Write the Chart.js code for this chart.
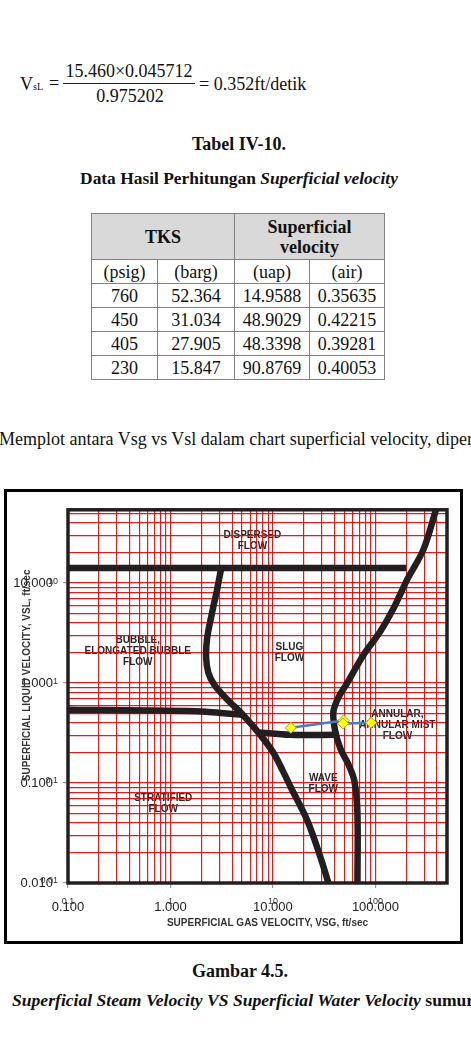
<!DOCTYPE html>
<html>
<head>
<meta charset="utf-8">
<script src="https://cdn.jsdelivr.net/npm/chart.js@4.4.0/dist/chart.umd.min.js"></script>
<style>
  body { margin: 0; width: 471px; height: 1038px; background: #fff; position: relative; overflow: hidden;
         font-family: 'Liberation Serif', 'Times New Roman', serif; font-size: 18px; color: #111; }
  .t { position: absolute; line-height: 18px; white-space: nowrap; }
  .c { transform: translateX(-50%); }
  table { position: absolute; left: 91px; top: 213px; width: 293px; border-collapse: collapse; table-layout: fixed; font-size: 18px; }
  td { border: 1.5px solid #808080; text-align: center; padding: 0; height: 23px; line-height: 20px; }
  tr.head td { background: #d9d9d9; font-weight: bold; height: 45px; }
  #frame { position: absolute; left: 4px; top: 489px; width: 459px; height: 455px; border: 3px solid #000; box-sizing: border-box; }
  #box { position: relative; width: 453px; height: 449px; }
</style>
</head>
<body>

<!-- formula -->
<div class="t" style="left:20px; top:75px;">V<span style="font-size:10px;">sL</span></div>
<div class="t" style="left:49px; top:74px;">=</div>
<div class="t c" style="left:129px; top:62px;">15.460&#215;0.045712</div>
<div style="position:absolute; left:63px; top:83px; width:132px; border-top:1px solid #222;"></div>
<div class="t c" style="left:130px; top:87px;">0.975202</div>
<div class="t" style="left:199px; top:75px;">= 0.352ft/detik</div>

<div class="t c" style="left:239px; top:135px; font-weight:bold;">Tabel IV-10.</div>
<div class="t c" style="left:239px; top:169px; font-weight:bold; font-size:17.4px;">Data Hasil Perhitungan <i>Superficial velocity</i></div>

<table>
  <colgroup><col style="width:66px"><col style="width:77px"><col style="width:75px"><col style="width:75px"></colgroup>
  <tr class="head"><td colspan="2">TKS</td><td colspan="2">Superficial<br>velocity</td></tr>
  <tr><td>(psig)</td><td>(barg)</td><td>(uap)</td><td>(air)</td></tr>
  <tr><td>760</td><td>52.364</td><td>14.9588</td><td>0.35635</td></tr>
  <tr><td>450</td><td>31.034</td><td>48.9029</td><td>0.42215</td></tr>
  <tr><td>405</td><td>27.905</td><td>48.3398</td><td>0.39281</td></tr>
  <tr><td>230</td><td>15.847</td><td>90.8769</td><td>0.40053</td></tr>
</table>

<div class="t" style="left:-1px; top:430px;">Memplot antara Vsg vs Vsl dalam chart superficial velocity, diperoleh gambar sebagai berikut:</div>

<div id="frame"><div id="box"><canvas id="flowChart"></canvas></div></div>

<div class="t c" style="left:240px; top:962px; font-weight:bold;">Gambar 4.5.</div>
<div class="t" style="left:12px; top:991px; font-weight:bold; font-size:17.6px;"><i>Superficial Steam Velocity VS Superficial Water Velocity</i> sumur</div>

<script>
// decade labels on each axis
const vsgDecades = [0.1, 1, 10, 100];
const vslDecades = [0.01, 0.1, 1, 10];

// measured points (table IV-10)
const steamVsg = [14.9588, 48.9029, 48.3398, 90.8769];
const waterVsl = [0.35635, 0.42215, 0.39281, 0.40053];

// flow regime boundaries
const dispersedVsg = [0.1, 200];
const dispersedVsl = [14.1, 14.1];
const bubbleVsg = [3.13, 2.86, 2.56, 2.28, 2.23, 2.34, 2.67, 3.5, 5.14, 7.53, 10.1, 12.6, 15.1, 21.7, 29.1, 34.8];
const bubbleVsl = [14.1, 8.74, 5.18, 2.81, 1.78, 1.27, 0.964, 0.702, 0.477, 0.303, 0.201, 0.13, 0.0887, 0.0419, 0.0181, 0.01];
const stratifiedVsg = [0.1, 2, 5.1];
const stratifiedVsl = [0.54, 0.52, 0.48];
const waveVsg = [7.4, 14.5, 40.5];
const waveVsl = [0.32, 0.303, 0.303];
const annularVsg = [66.8, 66.8, 62.5, 54.6, 45.6, 40.7, 38.9, 43.6, 53.4, 76.5, 112, 150, 206, 295, 390];
const annularVsl = [0.01, 0.049, 0.104, 0.153, 0.22, 0.324, 0.51, 0.718, 1.01, 1.91, 3.29, 5.55, 11.0, 21.7, 54];

// region names and where they sit
const regionNames = [['DISPERSED', 'FLOW'], ['BUBBLE,', 'ELONGATED BUBBLE', 'FLOW'], ['SLUG', 'FLOW'],
                     ['ANNULAR,', 'ANNULAR MIST', 'FLOW'], ['WAVE', 'FLOW'], ['STRATIFIED', 'FLOW']];
const regionVsg = [6.3, 0.48, 14.5, 164, 31, 0.85];
const regionVsl = [26.6, 2.09, 2.0, 0.38, 0.099, 0.062];

const xTitle = 'SUPERFICIAL GAS VELOCITY, VSG, ft/sec';
const yTitle = 'SUPERFICIAL LIQUID VELOCITY, VSL, ft/sec';

const pts = (xs, ys) => xs.map((x, i) => ({ x: x, y: ys[i] }));
const isDecade = v => Math.abs(Math.log10(v) - Math.round(Math.log10(v))) < 1e-9;
const sans = '"Liberation Sans", Arial, sans-serif';

function logTicks(decades, max) {
  const out = [];
  decades.concat([decades[decades.length - 1] * 10]).forEach(d => {
    for (let m = 1; m <= 9; m++) {
      const v = Number((m * d).toPrecision(3));
      if (v <= max) out.push({ value: v });
    }
  });
  return out;
}

function boundary(label, xs, ys, tension) {
  return {
    label: label, data: pts(xs, ys), showLine: true, pointRadius: 0,
    borderColor: '#231f20', borderWidth: 6.5, tension: tension,
    borderCapStyle: 'butt', borderJoinStyle: 'round'
  };
}

const frameAndLabels = {
  id: 'frameAndLabels',
  beforeDraw(chart) {
    const { ctx, scales: { x, y } } = chart;
    ctx.save();
    ctx.font = 'bold 10px ' + sans;
    ctx.fillStyle = '#262626';
    ctx.textAlign = 'center';
    ctx.textBaseline = 'middle';
    regionNames.forEach((lines, i) => {
      const px = x.getPixelForValue(regionVsg[i]);
      const py = y.getPixelForValue(regionVsl[i]);
      const top = py - (lines.length - 1) * 5.5;
      lines.forEach((s, j) => ctx.fillText(s, px, top + j * 11));
    });
    ctx.restore();
  },
  beforeDatasetsDraw(chart) {
    const { ctx, chartArea: a } = chart;
    ctx.save();
    ctx.strokeStyle = '#231f20';
    ctx.lineWidth = 3.5;
    ctx.strokeRect(a.left, a.top, a.right - a.left, a.bottom - a.top);
    ctx.restore();
  },
  afterDraw(chart) {
    const { ctx, chartArea: a, scales: { x, y } } = chart;
    ctx.save();
    // the second, smaller set of tick labels
    ctx.font = '9px ' + sans;
    ctx.fillStyle = '#333';
    ctx.textBaseline = 'middle';
    ctx.textAlign = 'center';
    vsgDecades.forEach(v => ctx.fillText(String(v), x.getPixelForValue(v), a.bottom + 19));
    ctx.textAlign = 'right';
    vslDecades.forEach(v => ctx.fillText(String(v), a.left - 10, y.getPixelForValue(v) - 2));
    // axis titles
    ctx.font = 'bold 10px ' + sans;
    ctx.fillStyle = '#333';
    ctx.textAlign = 'center';
    ctx.fillText(xTitle, (a.left + a.right) / 2 + 10, a.bottom + 40);
    ctx.translate(a.left - 41, (a.top + a.bottom) / 2 - 21);
    ctx.rotate(-Math.PI / 2);
    ctx.fillText(yTitle, 0, 0);
    ctx.restore();
  }
};

const gridRed = 'rgba(228,0,0,0.9)';
const tickGrey = c => (c.tick && isDecade(c.tick.value)) ? '#9a9a9a' : 'rgba(0,0,0,0)';

new Chart(document.getElementById('flowChart'), {
  type: 'scatter',
  data: {
    datasets: [
      {
        label: 'Vsg vs Vsl', data: pts(steamVsg, waterVsl), showLine: true,
        borderColor: '#4a7ebb', borderWidth: 2.5, tension: 0,
        pointStyle: 'rectRot', pointRadius: 5.5,
        pointBackgroundColor: '#ffff00', pointBorderColor: '#a0a040', pointBorderWidth: 1
      },
      boundary('dispersed', dispersedVsg, dispersedVsl, 0),
      boundary('bubble', bubbleVsg, bubbleVsl, 0.35),
      boundary('stratified', stratifiedVsg, stratifiedVsl, 0.2),
      boundary('wave', waveVsg, waveVsl, 0.3),
      boundary('annular', annularVsg, annularVsl, 0.35)
    ]
  },
  options: {
    responsive: true,
    maintainAspectRatio: false,
    animation: false,
    layout: { padding: { top: 13, right: 13, left: 0, bottom: 0 } },
    plugins: { legend: { display: false }, tooltip: { enabled: false } },
    scales: {
      x: {
        type: 'logarithmic', position: 'bottom', min: 0.1, max: 500,
        afterBuildTicks: s => { s.ticks = logTicks(vsgDecades, 500); },
        afterFit: s => { s.height = 58; },
        grid: { color: gridRed, lineWidth: 1.2, tickLength: 5, tickColor: tickGrey },
        border: { display: false },
        ticks: {
          autoSkip: false, maxRotation: 0, padding: 12, color: '#222',
          font: { size: 13, family: sans },
          callback: v => isDecade(v) ? v.toFixed(3) : ''
        }
      },
      y: {
        type: 'logarithmic', position: 'left', min: 0.01, max: 54,
        afterBuildTicks: s => { s.ticks = logTicks(vslDecades, 54); },
        afterFit: s => { s.width = 61; },
        grid: { color: gridRed, lineWidth: 1.2, tickLength: 5, tickColor: tickGrey },
        border: { display: false },
        ticks: {
          autoSkip: false, padding: 10, color: '#222',
          font: { size: 13, family: sans },
          callback: v => isDecade(v) ? v.toFixed(3) : ''
        }
      }
    }
  },
  plugins: [frameAndLabels]
});
</script>
</body>
</html>
